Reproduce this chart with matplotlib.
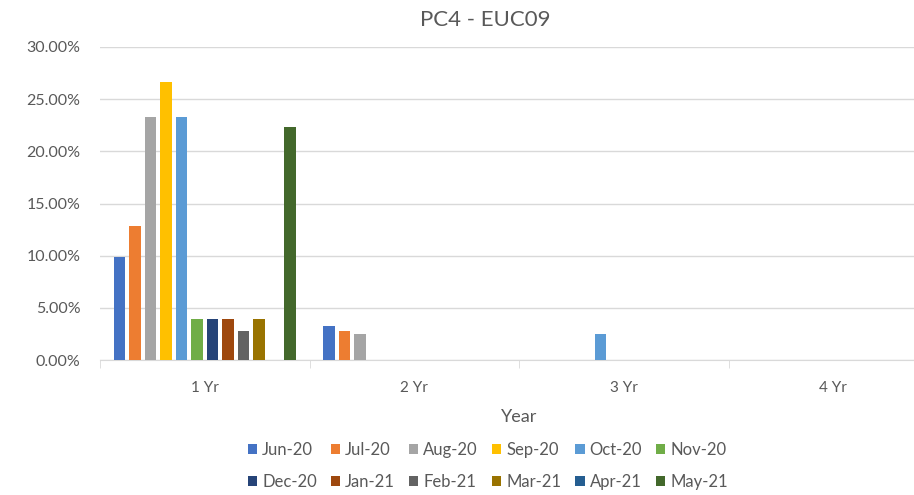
import numpy as np
import matplotlib
matplotlib.use("Agg")
import matplotlib.pyplot as plt
from matplotlib.ticker import PercentFormatter

plt.rcParams["font.family"] = ["Lato", "DejaVu Sans"]

# data (percent)
years = ["1 Yr", "2 Yr", "3 Yr", "4 Yr"]
months = ["Jun-20", "Jul-20", "Aug-20", "Sep-20", "Oct-20", "Nov-20",
          "Dec-20", "Jan-21", "Feb-21", "Mar-21", "Apr-21", "May-21"]
colors = ["#4472C4", "#ED7D31", "#A5A5A5", "#FFC000", "#5B9BD5", "#70AD47",
          "#264478", "#9E480E", "#636363", "#997300", "#255E91", "#43682B"]

jun20 = [9.88, 3.30, 0, 0]
jul20 = [12.80, 2.80, 0, 0]
aug20 = [23.25, 2.45, 0, 0]
sep20 = [26.65, 0, 0, 0]
oct20 = [23.25, 0, 2.45, 0]
nov20 = [3.95, 0, 0, 0]
dec20 = [3.95, 0, 0, 0]
jan21 = [3.95, 0, 0, 0]
feb21 = [2.80, 0, 0, 0]
mar21 = [3.95, 0, 0, 0]
apr21 = [0, 0, 0, 0]
may21 = [22.35, 0, 0, 0]
series = [jun20, jul20, aug20, sep20, oct20, nov20,
          dec20, jan21, feb21, mar21, apr21, may21]

text_col = "#595959"
grid_col = "#D9D9D9"

fig = plt.figure(figsize=(9.14, 4.95), dpi=100)
# plot area runs past the right edge, like the cropped original
ax = fig.add_axes([100 / 914, 135 / 495, 838 / 914, 313 / 495])

x = np.arange(len(years))
slot = 0.074
width = 0.057
handles = []
for i, (vals, col) in enumerate(zip(series, colors)):
    b = ax.bar(x + (i - 5.5) * slot, np.array(vals) / 100, width,
               color=col, label=months[i], zorder=3)
    handles.append(b)

ax.set_xlim(-0.5, 3.5)
ax.set_ylim(0, 0.30)
ax.set_yticks(np.arange(0, 0.301, 0.05))
ax.yaxis.set_major_formatter(PercentFormatter(1.0, decimals=2))
ax.grid(axis="y", color=grid_col, lw=1, zorder=0)

ax.set_xticks(x)
ax.set_xticklabels(years)
ax.set_xticks(np.arange(-0.5, 3.6, 1), minor=True)
ax.tick_params(axis="x", which="major", length=0, pad=15,
               labelcolor=text_col, labelsize=11)
ax.tick_params(axis="x", which="minor", length=6, color=grid_col)
ax.tick_params(axis="y", length=0, pad=14, labelcolor=text_col, labelsize=11.5)

for s in ["top", "right", "left"]:
    ax.spines[s].set_visible(False)
ax.spines["bottom"].set_color(grid_col)

ax.set_xlabel("Year", color=text_col, fontsize=13, labelpad=10)

fig.text(485 / 914, 1 - 20 / 495, "PC4 - EUC09", ha="center", va="center",
         color=text_col, fontsize=16)

# legend filled row by row: reorder for matplotlib's column fill
order = []
for c in range(6):
    order += [c, c + 6]
fig.legend([handles[k] for k in order], [months[k] for k in order],
           loc="center", bbox_to_anchor=(488 / 914, 1 - 466 / 495), ncol=6,
           frameon=False, fontsize=12, labelcolor=text_col,
           handlelength=0.55, handleheight=0.55, handletextpad=0.3,
           columnspacing=0.85, labelspacing=1.0)

fig.savefig("out.png", dpi=100)
